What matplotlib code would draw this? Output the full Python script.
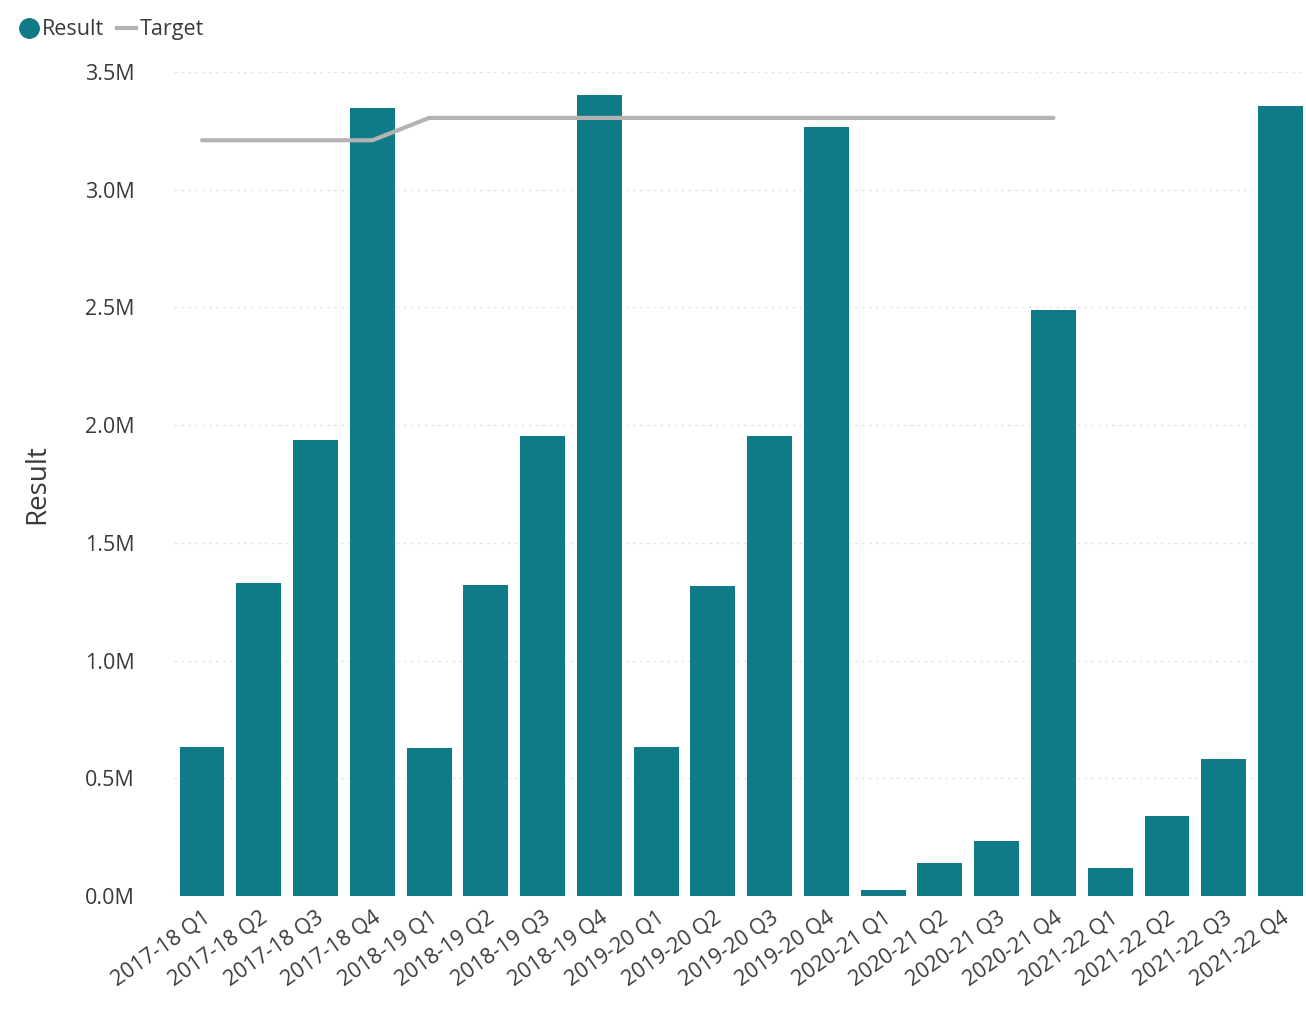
import matplotlib.pyplot as plt
from matplotlib.lines import Line2D
from matplotlib.ticker import FuncFormatter

# quarterly results vs target
quarters = ['2017-18 Q1', '2017-18 Q2', '2017-18 Q3', '2017-18 Q4',
            '2018-19 Q1', '2018-19 Q2', '2018-19 Q3', '2018-19 Q4',
            '2019-20 Q1', '2019-20 Q2', '2019-20 Q3', '2019-20 Q4',
            '2020-21 Q1', '2020-21 Q2', '2020-21 Q3', '2020-21 Q4',
            '2021-22 Q1', '2021-22 Q2', '2021-22 Q3', '2021-22 Q4']
result = [0.633, 1.33, 1.937, 3.347,
          0.629, 1.321, 1.954, 3.403,
          0.633, 1.317, 1.954, 3.267,
          0.025, 0.14, 0.234, 2.489,
          0.119, 0.34, 0.582, 3.356]
target = [3.21, 3.21, 3.21, 3.21,
          3.305, 3.305, 3.305, 3.305,
          3.305, 3.305, 3.305, 3.305,
          3.305, 3.305, 3.305, 3.305,
          None, None, None, None]

plt.rcParams['font.family'] = ['Open Sans', 'DejaVu Sans']
teal = '#0f7b87'
grey = '#b3b3b3'
txt = '#3a3a3a'

fig = plt.figure(figsize=(13.06, 10.10), dpi=100)
ax = fig.add_axes([0.133, 0.1129, 0.867, 0.8158])

x = list(range(len(quarters)))
ax.bar(x, result, width=0.79, color=teal, zorder=2)
tx = [i for i, t in zip(x, target) if t is not None]
ty = [t for t in target if t is not None]
ax.plot(tx, ty, color=grey, lw=3, zorder=3, solid_capstyle='round')

ax.set_ylim(0, 3.5)
ax.set_xlim(-0.5, 19.45)
ax.set_yticks([0, 0.5, 1.0, 1.5, 2.0, 2.5, 3.0, 3.5])
ax.yaxis.set_major_formatter(FuncFormatter(lambda v, p: f'{v:.1f}M'))
ax.grid(axis='y', color='#e4e4e4', linestyle=(0, (2, 3)), lw=1, zorder=0)
ax.set_xticks(x)
ax.set_xticklabels(quarters, rotation=35, ha='right', rotation_mode='anchor')
ax.tick_params(axis='both', length=0, labelsize=15.5, labelcolor=txt)
ax.tick_params(axis='y', pad=28)
ax.tick_params(axis='x', pad=8)
for s in ax.spines.values():
    s.set_visible(False)
ax.set_ylabel('Result', fontsize=20, color=txt, labelpad=24)

handles = [Line2D([], [], marker='o', color=teal, linestyle='none', markersize=14),
           Line2D([], [], color=grey, lw=3)]
fig.legend(handles, ['Result', 'Target'], loc='upper left', bbox_to_anchor=(0.0, 1.0),
           ncol=2, frameon=False, fontsize=15.5, handlelength=0.9, handletextpad=0.15,
           columnspacing=0.6, labelcolor=txt)

fig.savefig('out.png', dpi=100, facecolor='white')
